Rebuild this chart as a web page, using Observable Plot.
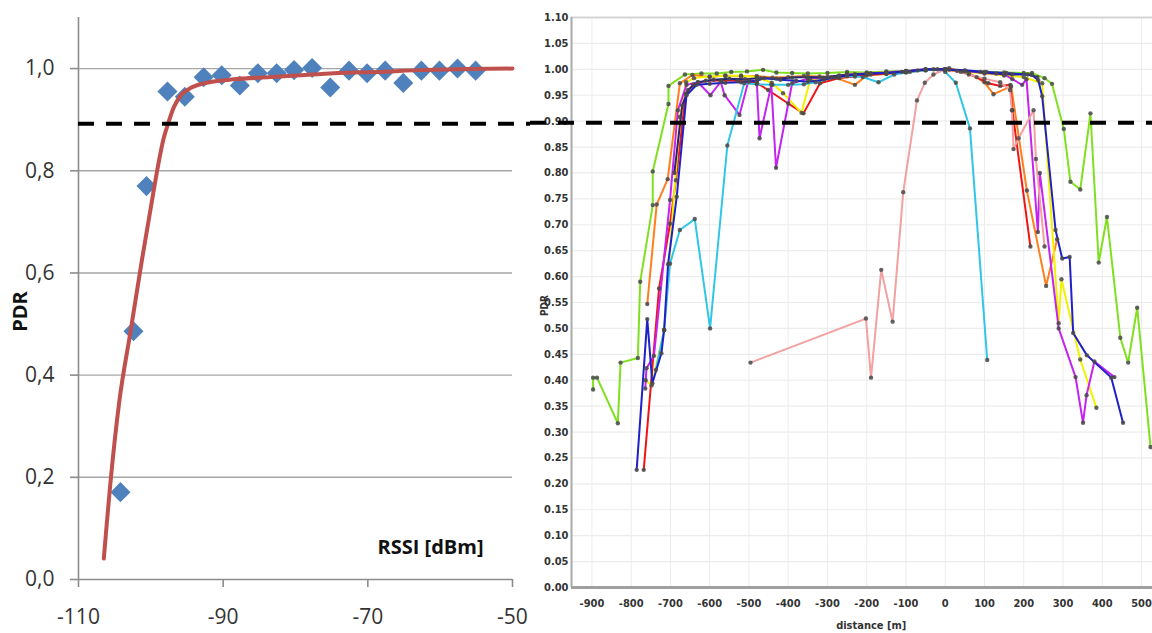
<!DOCTYPE html>
<html><head><meta charset="utf-8">
<script src="https://cdn.jsdelivr.net/npm/d3@7"></script>
<script src="https://cdn.jsdelivr.net/npm/@observablehq/plot@0.6"></script>
<style>
body{margin:0;background:#fff;}
#wrap{position:relative;width:1152px;height:633px;overflow:hidden;background:#fff;}
#left{position:absolute;left:0;top:0;width:530px;height:633px;}
#right{position:absolute;left:530px;top:0;width:622px;height:633px;}
</style></head><body>
<div id="wrap"><div id="right"></div><div id="left"></div></div>
<script>
// ---------- left panel data ----------
const rssi = [-104.2,-102.4,-100.6,-97.7,-95.3,-92.7,-90.2,-87.7,-85.2,-82.6,-80.2,-77.7,-75.2,-72.6,-70.1,-67.6,-65.1,-62.6,-60.1,-57.6,-55.1];
const pdr  = [0.171,0.486,0.770,0.955,0.945,0.983,0.987,0.967,0.991,0.991,0.997,1.001,0.963,0.996,0.991,0.996,0.972,0.996,0.996,1.000,0.996];
const fitRssi = [-106.5,-106.1,-105.6,-104.4,-102.8,-101.2,-99.5,-99.0,-98.2,-97.6,-96.8,-95.7,-94.5,-92.7,-88.5,-83.9,-79.3,-74.7,-67.7,-63.1,-56.2,-50];
const fitPdr  = [0.041,0.108,0.187,0.344,0.486,0.628,0.770,0.810,0.865,0.893,0.925,0.950,0.962,0.971,0.979,0.983,0.987,0.991,0.994,0.997,0.999,1.000];
const xTicksL = [-110,-90,-70,-50];
const yTicksL = [0,0.2,0.4,0.6,0.8,1.0];

// ---------- right panel data (distance [m], PDR) ----------
const run1 = [[-897,0.382],[-897,0.405],[-887,0.405],[-834,0.317],[-827,0.434],[-783,0.443],[-777,0.590],[-745,0.738],[-745,0.803],[-705,0.933],[-705,0.968],[-663,0.990],[-621,0.992],[-582,0.992],[-545,0.995],[-505,0.996],[-464,0.999],[-430,0.994],[-390,0.993],[-350,0.992],[-300,0.993],[-250,0.995],[-200,0.994],[-150,0.996],[-100,0.997],[-50,0.999],[0,0.999],[50,0.997],[100,0.995],[150,0.994],[200,0.993],[221,0.993],[253,0.983],[272,0.972],[302,0.885],[319,0.783],[344,0.768],[370,0.915],[391,0.627],[412,0.715],[446,0.482],[466,0.434],[489,0.540],[523,0.271]];
const run2 = [[-759,0.547],[-735,0.739],[-707,0.788],[-676,0.973],[-644,0.989],[-600,0.985],[-560,0.988],[-520,0.986],[-480,0.987],[-440,0.984],[-400,0.985],[-360,0.987],[-320,0.986],[-280,0.984],[-230,0.970],[-200,0.988],[-150,0.991],[-100,0.994],[-50,0.998],[10,1.002],[60,0.993],[100,0.975],[123,0.952],[168,0.967],[208,0.766],[257,0.582],[285,0.672]];
const run3 = [[-768,0.227],[-729,0.577],[-701,0.702],[-686,0.786],[-661,0.953],[-642,0.971],[-610,0.978],[-570,0.979],[-530,0.978],[-500,0.976],[-480,0.974],[-451,0.960],[-400,0.934],[-361,0.915],[-319,0.973],[-270,0.983],[-230,0.986],[-190,0.990],[-150,0.992],[-100,0.995],[-50,0.999],[0,1.000],[40,0.995],[80,0.985],[110,0.973],[140,0.968],[166,0.970],[171,0.921],[217,0.658]];
const run4 = [[-763,0.400],[-748,0.390],[-716,0.497],[-676,0.908],[-660,0.975],[-640,0.983],[-600,0.986],[-560,0.987],[-520,0.988],[-480,0.985],[-442,0.974],[-413,0.954],[-366,0.916],[-344,0.980],[-300,0.985],[-250,0.990],[-200,0.992],[-150,0.994],[-100,0.996],[-50,0.999],[0,1.000],[50,0.996],[100,0.992],[150,0.988],[200,0.985],[247,0.973],[289,0.510],[296,0.595],[344,0.440],[385,0.347]];
const run5 = [[-764,0.384],[-761,0.423],[-742,0.447],[-701,0.748],[-681,0.921],[-659,0.970],[-630,0.975],[-598,0.950],[-572,0.976],[-562,0.950],[-524,0.912],[-501,0.979],[-480,0.977],[-473,0.867],[-443,0.970],[-431,0.810],[-390,0.973],[-350,0.982],[-300,0.985],[-250,0.990],[-200,0.992],[-150,0.994],[-100,0.997],[-50,1.000],[0,1.000],[50,0.997],[100,0.993],[150,0.990],[171,0.981],[196,0.970],[207,0.981],[236,0.686],[241,0.800],[289,0.500],[332,0.406],[351,0.318],[360,0.371],[380,0.436],[431,0.406]];
const run6 = [[-737,0.420],[-716,0.497],[-701,0.625],[-676,0.690],[-638,0.711],[-599,0.500],[-555,0.853],[-512,0.973],[-480,0.971],[-440,0.970],[-400,0.970],[-360,0.971],[-330,0.975],[-290,0.984],[-250,0.987],[-210,0.985],[-170,0.975],[-130,0.990],[-90,0.995],[-50,0.998],[-20,1.000],[0,0.995],[27,0.974],[63,0.886],[107,0.439]];
const run7 = [[-496,0.434],[-202,0.519],[-189,0.405],[-163,0.613],[-134,0.513],[-107,0.763],[-72,0.940],[-52,0.974],[-30,0.990],[0,1.000],[30,0.997],[60,0.990],[100,0.982],[140,0.975],[165,0.960],[170,0.921],[174,0.846],[187,0.867],[225,0.921],[231,0.827],[253,0.658]];
const run8 = [[-690,0.800],[-670,0.930],[-655,0.960],[-630,0.975],[-590,0.980],[-550,0.982],[-510,0.981],[-470,0.983],[-430,0.982],[-390,0.984],[-350,0.985],[-310,0.984],[-270,0.988],[-230,0.990],[-190,0.992],[-150,0.993],[-110,0.995],[-70,0.998],[-30,1.000],[10,0.999],[50,0.997],[90,0.995],[130,0.992],[170,0.990],[210,0.990],[235,0.985]];
const run9 = [[-786,0.227],[-759,0.518],[-746,0.394],[-723,0.452],[-716,0.497],[-706,0.624],[-684,0.754],[-659,0.950],[-633,0.970],[-600,0.972],[-560,0.974],[-520,0.975],[-480,0.978],[-461,0.983],[-420,0.980],[-380,0.978],[-350,0.976],[-309,0.980],[-270,0.986],[-230,0.990],[-190,0.992],[-150,0.993],[-100,0.996],[-50,1.000],[0,1.000],[50,0.998],[105,0.995],[156,0.993],[221,0.989],[237,0.979],[247,0.948],[281,0.690],[298,0.635],[317,0.638],[326,0.491],[361,0.448],[423,0.405],[453,0.318]];
const seriesNames = ["run 1","run 2","run 3","run 4","run 5","run 6","run 7","run 8","run 9"];
const seriesColors = ["#80e020","#ff7f1e","#f01414","#f2f200","#c424f0","#30c6e8","#f2a0a0","#24247a","#2020c8"];
const seriesData = [run1,run2,run3,run4,run5,run6,run7,run8,run9];
const xTicksR = [-900,-800,-700,-600,-500,-400,-300,-200,-100,0,100,200,300,400,500];
const yTicksR = [0,0.05,0.10,0.15,0.20,0.25,0.30,0.35,0.40,0.45,0.50,0.55,0.60,0.65,0.70,0.75,0.80,0.85,0.90,0.95,1.00,1.05,1.10];

// ---------- left chart ----------
const leftPts = rssi.map((x,i)=>({x, y: pdr[i]}));
const fitPts = fitRssi.map((x,i)=>({x, y: fitPdr[i]}));
const comma = d => d.toFixed(1).replace(".", ",");
const leftChart = Plot.plot({
  width: 530, height: 633,
  marginLeft: 78, marginRight: 18, marginTop: 17, marginBottom: 54,
  x: {domain: [-110,-50], label: null},
  y: {domain: [0,1.1], label: null},
  style: {fontFamily: "'Open Sans', sans-serif", background: "transparent", overflow: "visible"},
  marks: [
    Plot.ruleY(yTicksL.slice(1), {stroke: "#a6a6a6", strokeWidth: 1.4}),
    Plot.ruleX([-110], {y1: 0, y2: 1.1, stroke: "#8c8c8c", strokeWidth: 1.6}),
    Plot.ruleY([0], {stroke: "#8c8c8c", strokeWidth: 1.6}),
    Plot.axisX({ticks: xTicksL, tickFormat: d => String(d), tickSize: 8, tickPadding: 22, fontSize: 21, stroke: "#8c8c8c", fill: "#333", strokeWidth: 1.6, label: null}),
    Plot.axisY({ticks: yTicksL, tickFormat: comma, tickSize: 8, tickPadding: 16, fontSize: 21, stroke: "#8c8c8c", fill: "#333", strokeWidth: 1.6, label: null}),
    Plot.dot(leftPts, {x: "x", y: "y", symbol: "square", r: 8, rotate: 45, fill: "#4F81BD"}),
    Plot.line(fitPts, {x: "x", y: "y", stroke: "#C0504D", strokeWidth: 4, curve: "monotone-x"}),
    Plot.ruleY([0.892], {x1: -110, x2: -47.51, stroke: "black", strokeWidth: 4, strokeDasharray: "16,12"}),
    Plot.text(["PDR"], {x: -118, y: 0.5245, rotate: -90, fontWeight: "bold", fontSize: 20, fill: "#111"}),
    Plot.text(["RSSI [dBm]"], {x: -68.66, y: 0.0626, textAnchor: "start", fontWeight: "bold", fontSize: 20, fill: "#111"})
  ]
});
document.getElementById("left").appendChild(leftChart);

// ---------- right chart ----------
const rows = seriesData.flatMap((pts, k) => pts.map(([d, v]) => ({d, v, s: seriesNames[k]})));
const narrow = "'Liberation Sans Narrow','DejaVu Sans Condensed',sans-serif";
const rightChart = Plot.plot({
  width: 622, height: 633,
  marginLeft: 41, marginRight: 0, marginTop: 17, marginBottom: 46,
  x: {domain: [-952, 528], label: null},
  y: {domain: [0, 1.1], label: null},
  color: {type: "ordinal", domain: seriesNames, range: seriesColors},
  style: {fontFamily: narrow, background: "transparent"},
  marks: [
    Plot.gridX(xTicksR, {stroke: "#ececec", strokeOpacity: 1}),
    Plot.gridY(yTicksR, {stroke: "#ececec", strokeOpacity: 1, strokeWidth: 1.2}),
    Plot.ruleY([1.1], {stroke: "#d4d4d4", strokeWidth: 2}),
    Plot.ruleX([-952], {y1: 0, y2: 1.1, stroke: "#aaaaaa", strokeWidth: 2}),
    Plot.ruleY([0], {stroke: "#a0a0a0", strokeWidth: 3}),
    Plot.axisX({ticks: xTicksR, tickFormat: d => String(d), tickSize: 0, tickPadding: 12, fontSize: 11, fontWeight: "bold", fill: "#333", label: null}),
    Plot.axisY({ticks: yTicksR, tickFormat: d => d.toFixed(2), tickSize: 0, tickPadding: 3, fontSize: 11, fontWeight: "bold", fill: "#333", label: null}),
    Plot.line(rows, {x: "d", y: "v", z: "s", stroke: "s", strokeWidth: 2}),
    Plot.dot(rows, {x: "d", y: "v", r: 2.2, fill: "#4a4a4a", fillOpacity: 0.85}),
    Plot.ruleY([0.897], {x1: -1056.4, x2: 528, stroke: "black", strokeWidth: 4, strokeDasharray: "16,12"}),
    Plot.text(["distance [m]"], {x: -188.5, y: -0.0733, fontSize: 11, fontWeight: "bold", fill: "#333"}),
    Plot.text(["PDR"], {x: -1021, y: 0.544, rotate: -90, fontSize: 10, fontWeight: "bold", fill: "#333"})
  ]
});
document.getElementById("right").appendChild(rightChart);
</script>
</body></html>
